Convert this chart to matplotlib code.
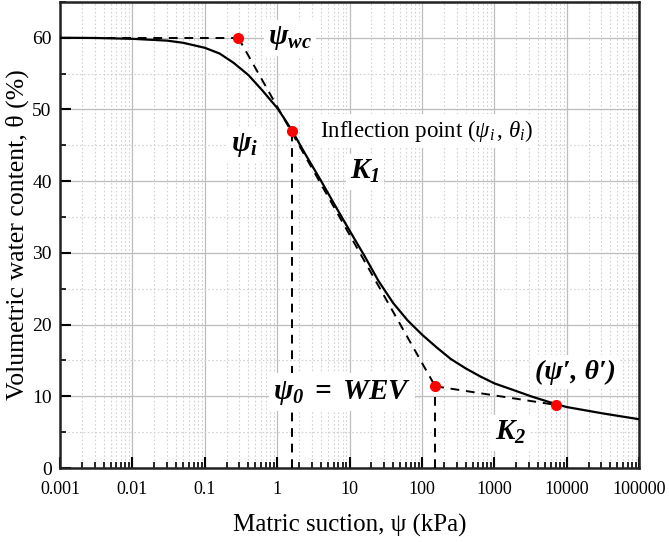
"""Soil-water characteristic curve with WEV construction lines."""

import matplotlib

matplotlib.use("Agg")
import matplotlib.pyplot as plt
from matplotlib.ticker import FixedLocator, LogLocator, NullFormatter
import numpy as np

# SWCC (matric suction in kPa, water content in %)
SUCTION = [0.001, 0.003, 0.01, 0.03, 0.05, 0.1, 0.16, 0.25, 0.4, 0.63, 1.0,
           1.26, 1.6, 2.5, 4.0, 6.3, 10, 16, 25, 40, 63, 100, 160, 250, 400,
           630, 1000, 1800, 3200, 7100, 10000, 32000, 100000]
THETA = [60.0, 59.97, 59.85, 59.6, 59.3, 58.6, 57.8, 56.5, 54.8, 52.6, 50.2,
         48.7, 47.05, 43.6, 40.1, 36.6, 33.1, 29.6, 26.1, 23.0, 20.6, 18.6,
         16.8, 15.2, 13.9, 12.8, 11.8, 10.9, 10.0, 8.9, 8.5, 7.6, 6.8]

# key points: air-entry (psi_wc), inflection (psi_i), WEV (psi_0), residual (psi')
PT_SUCTION = [0.29, 1.61, 152, 7100]
PT_THETA = [60.0, 47.0, 11.4, 8.8]

X_TICKS = [0.001, 0.01, 0.1, 1, 10, 100, 1000, 10000, 100000]
X_LABELS = ["0.001", "0.01", "0.1", "1", "10", "100", "1000", "10000", "100000"]
Y_TICKS = [0, 10, 20, 30, 40, 50, 60]

plt.rcParams.update(
    {
        "font.family": ["Liberation Serif", "DejaVu Serif"],
        "mathtext.fontset": "custom",
        "mathtext.rm": "Liberation Serif",
        "mathtext.it": "Liberation Serif:italic",
        "mathtext.bf": "Liberation Serif:italic:bold",
    }
)

fig = plt.figure(figsize=(6.69, 5.42), dpi=100)
ax = fig.add_axes([0.0897, 0.1365, 0.8658, 0.86])

ax.set_xscale("log")
ax.set_xlim(0.001, 100000)
ax.set_ylim(0, 65)

ax.grid(which="major", color="#bdbdbd", linewidth=0.9, linestyle="-")
ax.grid(which="minor", color="#d2d2d2", linewidth=0.8, linestyle=(0, (1.5, 2)))
ax.set_axisbelow(True)

ax.xaxis.set_major_locator(FixedLocator(X_TICKS))
ax.set_xticklabels(X_LABELS)
ax.xaxis.set_minor_locator(LogLocator(base=10, subs=np.arange(2, 10), numticks=20))
ax.xaxis.set_minor_formatter(NullFormatter())
ax.yaxis.set_major_locator(FixedLocator(Y_TICKS))
ax.yaxis.set_minor_locator(FixedLocator([5, 15, 25, 35, 45, 55, 65]))

ax.tick_params(which="major", direction="in", length=8, width=1.5)
ax.tick_params(axis="x", which="major", labelsize=13, pad=9)
ax.tick_params(axis="y", which="major", labelsize=14, pad=6)
ax.tick_params(which="minor", direction="in", length=4.5, width=1.2)
for spine in ax.spines.values():
    spine.set_linewidth(1.8)
    spine.set_color("#222222")

ax.set_xlabel("Matric suction, ψ (kPa)", fontsize=18, labelpad=12)
ax.set_ylabel("Volumetric water content, θ (%)", fontsize=18.5, labelpad=2)

# construction lines
dash = dict(color="black", linestyle=(0, (4.5, 3.5)), linewidth=1.4, zorder=3)
ax.plot([SUCTION[0], PT_SUCTION[0]], [THETA[0], PT_THETA[0]], **dash)
ax.plot([PT_SUCTION[0], PT_SUCTION[2]], [PT_THETA[0], PT_THETA[2]], **dash)
ax.plot([PT_SUCTION[2], PT_SUCTION[3]], [PT_THETA[2], PT_THETA[3]], **dash)
ax.plot([PT_SUCTION[1], PT_SUCTION[1]], [0, PT_THETA[1]], **dash)
ax.plot([PT_SUCTION[2], PT_SUCTION[2]], [0, PT_THETA[2]], **dash)

ax.plot(SUCTION, THETA, color="black", linewidth=1.6, zorder=4)
ax.plot(PT_SUCTION, PT_THETA, "o", color="#ff0000", markersize=7, zorder=5)

box = dict(facecolor="white", edgecolor="none", pad=3)
label_kw = dict(ha="center", va="center", zorder=6, bbox=box)
ax.text(1.5, 60, r"$\mathbf{\psi_{wc}}$", fontsize=21, **label_kw)
ax.text(0.36, 45, r"$\mathbf{\psi_{i}}$", fontsize=21, **label_kw)
ax.text(3.9, 47, r"Inflection point $(\mathit{\psi_i}\,,\,\mathit{\theta_i})$",
        fontsize=16.5, ha="left", va="center", zorder=6, bbox=box)
ax.text(16.4, 41.3, r"$\mathbf{K_1}$", fontsize=21, **label_kw)
ax.text(7.8, 10.6, r"$\mathbf{\psi_0\ =\ WEV}$", fontsize=21, **label_kw)
ax.text(13000, 13.4, "(ψ′, θ′)", fontsize=20, fontweight="bold",
        fontstyle="italic", **label_kw)
ax.text(1660, 4.9, r"$\mathbf{K_2}$", fontsize=21, **label_kw)

fig.savefig("out.png", dpi=100)
